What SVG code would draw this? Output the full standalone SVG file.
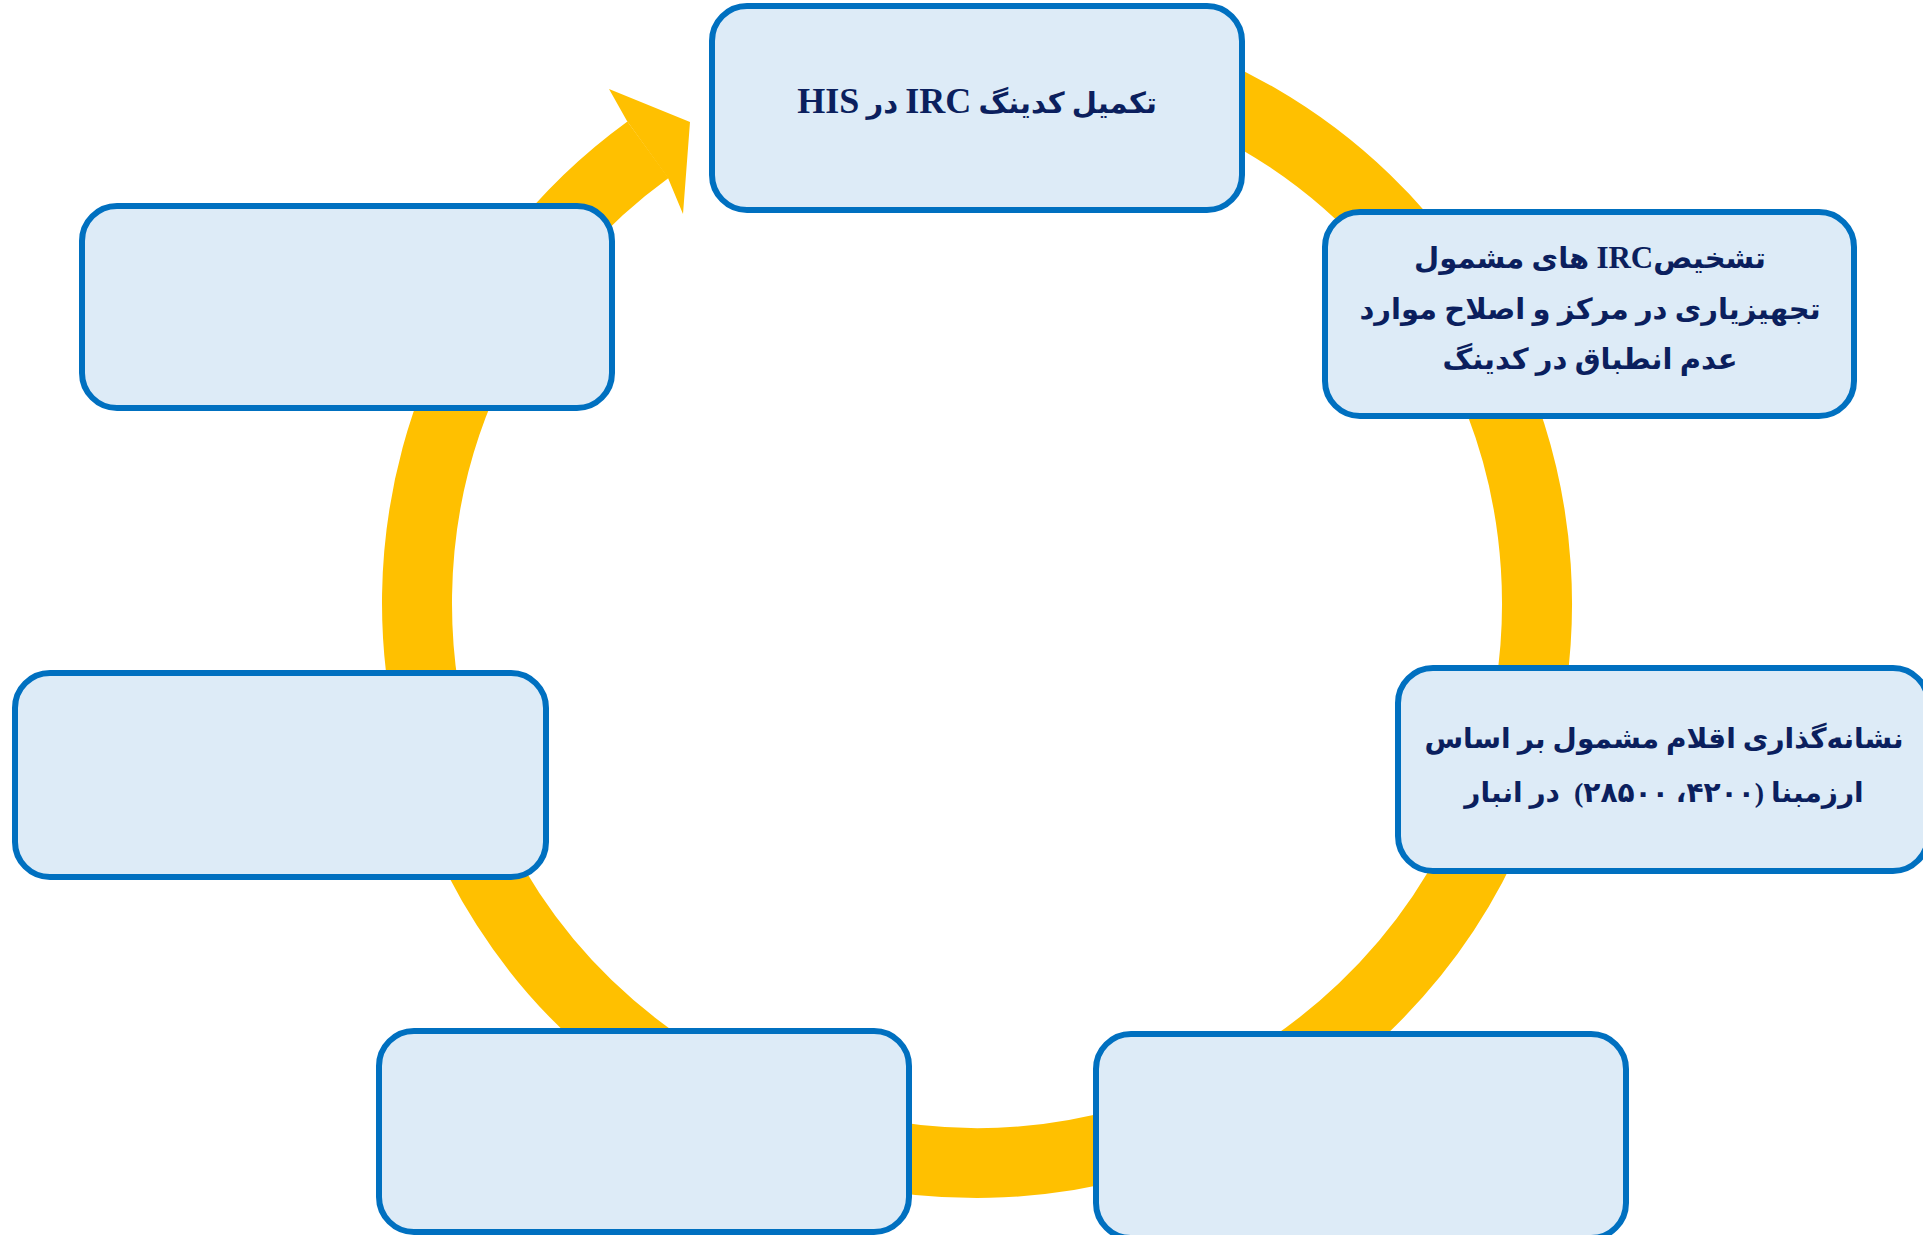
<svg xmlns="http://www.w3.org/2000/svg" width="1923" height="1235" viewBox="0 0 1923 1235">
  <style>
    .box { fill: #DDEBF7; stroke: #0070C0; stroke-width: 6; }
    .ring { fill: none; stroke: #FFC000; stroke-width: 70; }
    .head { fill: #FFC000; stroke: none; }
    .t { font-family: "Liberation Serif", "DejaVu Sans", sans-serif; font-weight: bold; fill: #0B1F5E; text-anchor: middle; }
  </style>
  <rect x="0" y="0" width="1923" height="1235" fill="#FFFFFF"/>
  <g id="connectors">
    <path class="ring" d="M 1025.8 45.1 A 560 560 0 1 1 648 149.8"/>
    <polygon class="head" points="627,121 609,89 690,122 683,214 668,178"/>
  </g>
  <g id="node1">
    <rect class="box" x="712" y="6" width="530" height="204" rx="35" ry="35"/>
    <text class="t" x="977" y="113" font-size="29" direction="rtl">تکمیل کدینگ <tspan font-size="36">IRC</tspan> در <tspan font-size="36">HIS</tspan></text>
  </g>
  <g id="node2">
    <rect class="box" x="1325" y="212" width="529" height="204" rx="35" ry="35"/>
    <text class="t" x="1590" y="268" font-size="29" direction="rtl">تشخیص<tspan font-size="31">IRC</tspan> های مشمول</text>
    <text class="t" x="1590" y="319" font-size="29" direction="rtl">تجهیزیاری در مرکز و اصلاح موارد</text>
    <text class="t" x="1590" y="369" font-size="29" direction="rtl">عدم انطباق در کدینگ</text>
  </g>
  <g id="node3">
    <rect class="box" x="1398" y="668" width="530" height="203" rx="35" ry="35"/>
    <text class="t" x="1664" y="748" font-size="28" direction="rtl">نشانه‌گذاری اقلام مشمول بر اساس</text>
    <text class="t" x="1664" y="802" font-size="28" direction="rtl" xml:space="preserve">ارزمبنا (۴۲۰۰، ۲۸۵۰۰)  در انبار</text>
  </g>
  <g id="node4">
    <rect class="box" x="1096" y="1034" width="530" height="204" rx="35" ry="35"/>
  </g>
  <g id="node5">
    <rect class="box" x="379" y="1031" width="530" height="201" rx="35" ry="35"/>
  </g>
  <g id="node6">
    <rect class="box" x="15" y="673" width="531" height="204" rx="35" ry="35"/>
  </g>
  <g id="node7">
    <rect class="box" x="82" y="206" width="530" height="202" rx="35" ry="35"/>
  </g>
</svg>
